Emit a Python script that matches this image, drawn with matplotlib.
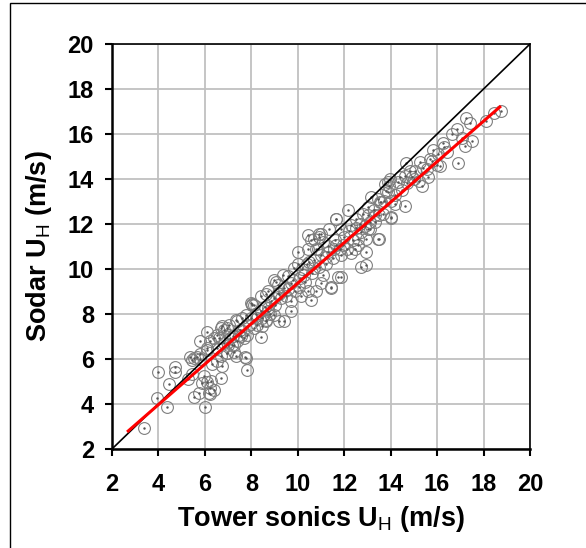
import matplotlib
matplotlib.use('Agg')
import matplotlib.pyplot as plt
from matplotlib.patches import Rectangle
import numpy as np

plt.rcParams['font.family'] = ['Liberation Sans', 'DejaVu Sans']
plt.rcParams['mathtext.fontset'] = 'custom'
plt.rcParams['mathtext.rm'] = 'Liberation Sans'

# tower sonic wind speed vs sodar wind speed (m/s)
tower = [3.36, 4.0, 4.7, 4.7, 4.47, 3.96, 4.39, 5.81, 6.1, 5.38, 5.45, 5.81, 5.64, 6.1,
         5.26, 5.45, 5.95, 5.74, 5.55, 6.0, 6.1, 6.2, 6.17, 5.88, 6.27, 6.24, 6.41, 6.31,
         6.53, 6.68, 6.75, 6.72, 6.6, 6.96, 7.03, 6.96, 7.25, 7.18, 7.32, 7.4, 7.54, 7.71,
         7.83, 7.64, 7.83, 7.9, 8.05, 8.12, 8.41, 8.26, 8.48, 8.65, 8.62, 8.41, 8.7,
         6.1, 5.52, 5.81, 6.24, 6.38, 6.53, 6.68, 6.82, 7.03, 7.4, 7.61, 7.76, 7.97, 8.12,
         8.26, 8.48, 8.62, 8.7, 8.84, 8.98, 9.06, 9.13, 9.2, 6.53, 6.82, 7.1, 7.25, 7.47,
         7.68, 7.76, 6.68, 6.96, 7.32,
         8.41, 8.7, 8.98, 9.13, 9.35, 9.42, 9.71, 10.0, 10.07, 10.28, 10.43, 10.57, 10.5,
         10.71, 10.86, 11.0, 11.08, 11.22, 11.36, 11.44, 11.65, 11.65, 11.73, 8.98, 9.71,
         9.27, 10.14, 10.43, 10.79, 11.0,
         10.43, 10.71, 10.79, 10.93, 11.65, 11.87, 12.16, 12.3, 12.52, 12.8, 13.02, 13.17,
         13.31, 13.53, 13.67, 13.82, 13.92, 14.03, 14.18, 14.32, 13.48, 12.74, 12.6, 11.94,
         12.45, 11.58, 11.87, 11.29, 13.02, 12.95,
         13.74, 13.96, 14.4, 14.68, 14.83, 14.9, 15.26, 15.33, 15.55, 15.69, 15.84, 16.13,
         16.05, 16.27, 16.42, 16.63, 16.85, 16.92, 17.06, 17.2, 17.25, 17.42, 17.5, 15.04,
         14.61, 18.1, 18.43, 18.77, 14.61, 14.03, 15.6,
         8.05, 9.42, 9.71, 9.85, 10.57, 10.93, 11.44, 11.87, 12.3, 12.74, 12.95, 12.95,
         12.6, 13.45, 13.09, 13.31, 13.6, 13.89, 13.89, 13.45, 13.02,
         9.0, 9.2, 9.5, 9.6, 9.8, 9.9, 10.1, 10.2, 10.3, 10.4, 10.6, 10.7, 10.9, 11.0,
         11.2, 11.3, 11.5, 11.6, 11.8, 12.0, 12.1, 12.2, 12.4, 12.5, 12.7, 12.9, 13.1,
         13.3, 13.5, 13.7, 14.0, 14.2, 14.5, 14.7, 15.0, 15.2, 15.4, 15.8, 16.0, 16.3,
         8.0, 8.2, 8.6, 8.8, 7.0, 7.5, 7.2, 11.1, 10.0, 9.6]
sodar = [2.93, 5.43, 5.66, 5.4, 4.88, 4.26, 3.85, 6.82, 7.2, 6.09, 5.94, 6.2, 6.09, 6.47,
         5.1, 5.32, 5.25, 4.51, 4.29, 3.85, 4.96, 4.73, 4.48, 4.93, 5.03, 4.44, 4.61, 5.76,
         5.91, 5.15, 5.69, 7.46, 6.94, 7.38, 7.06, 6.25, 6.32, 6.64, 7.75, 6.8, 7.02, 6.09,
         5.52, 7.23, 7.08, 7.53, 8.44, 7.38, 6.97, 7.82, 7.46, 8.88, 7.75, 8.12, 8.26,
         6.42, 6.06, 5.98, 6.8, 6.94, 7.08, 7.38, 7.3, 7.53, 7.68, 7.82, 7.97, 8.48, 8.38,
         7.53, 7.82, 7.68, 8.12, 8.56, 7.97, 9.44, 8.93, 7.68, 6.5, 6.72, 6.94, 6.64, 7.08,
         6.94, 6.06, 6.13, 6.28, 6.13,
         8.78, 9.0, 9.51, 9.29, 9.73, 9.15, 9.37, 10.77, 9.22, 9.73, 11.5, 11.3, 10.32,
         10.03, 10.91, 11.57, 9.73, 10.54, 11.79, 9.22, 12.23, 11.06, 9.66, 8.7, 8.56,
         8.7, 8.78, 9.0, 9.0, 9.37,
         10.91, 11.35, 10.91, 11.57, 12.2, 11.79, 12.62, 11.95, 12.23, 12.45, 12.75, 13.19,
         12.08, 12.97, 12.45, 13.48, 13.7, 12.3, 13.27, 13.85, 11.35, 11.65, 11.35, 11.06,
         10.91, 10.91, 10.62, 10.77, 11.79, 11.35,
         13.78, 14.0, 14.07, 14.7, 14.36, 14.07, 14.76, 13.7, 14.44, 14.88, 15.29, 14.58,
         15.1, 15.62, 15.18, 15.98, 16.2, 14.7, 15.83, 15.47, 16.72, 16.5, 15.69, 14.36,
         14.15, 16.57, 16.94, 17.04, 12.82, 12.26, 14.1,
         8.41, 7.68, 8.12, 10.03, 8.63, 11.43, 9.15, 9.66, 10.69, 10.1, 10.17, 10.77,
         11.06, 11.35, 11.79, 12.38, 12.97, 13.41, 13.85, 13.12, 12.38,
         8.4, 8.9, 8.8, 9.1, 9.5, 9.0, 9.6, 10.0, 9.4, 10.2, 9.8, 10.4, 10.1, 10.6,
         10.2, 11.0, 10.5, 11.3, 10.9, 11.4, 10.9, 11.7, 11.3, 11.8, 12.0, 11.9, 12.1,
         12.6, 12.4, 13.0, 13.0, 12.9, 13.5, 13.8, 14.0, 13.9, 14.5, 14.8, 14.6, 15.4,
         7.8, 8.0, 8.3, 8.0, 6.6, 7.3, 7.0, 11.2, 10.2, 9.7]

# regression line (estimated from the red line)
fit_slope = 0.90
fit_intercept = 0.37
fit_range = [2.7, 18.7]

ticks = [2, 4, 6, 8, 10, 12, 14, 16, 18, 20]

fig = plt.figure(figsize=(5.86, 5.48), dpi=100)
ax = fig.add_axes([0.1911, 0.1807, 0.7133, 0.739])

ax.plot(tower, sodar, 'o', ms=8.5, mfc='none', mec='#7f7f7f', mew=0.8, zorder=3)
ax.plot(tower, sodar, '.', ms=1.5, color='#555555', zorder=3)

ax.plot([2, 20], [2, 20], color='black', lw=1.2, zorder=4)
fx = np.array(fit_range)
ax.plot(fx, fit_slope * fx + fit_intercept, color='#ff0000', lw=2.2, zorder=5)

ax.set_xlim(2, 20)
ax.set_ylim(2, 20)
ax.set_xticks(ticks)
ax.set_yticks(ticks)
ax.grid(True, color='#c0c0c0', lw=1.3)
ax.set_axisbelow(True)

for s in ['left', 'bottom']:
    ax.spines[s].set_linewidth(1.8)
for s in ['top', 'right']:
    ax.spines[s].set_linewidth(1.2)

ax.tick_params(axis='x', direction='out', length=5, width=1.5, pad=12, labelsize=17)
ax.tick_params(axis='y', direction='out', length=5, width=1.5, pad=8, labelsize=17)
for lab in ax.get_xticklabels() + ax.get_yticklabels():
    lab.set_fontweight('bold')

ax.set_xlabel(r'Tower sonics U$_\mathrm{H}$ (m/s)', fontsize=19.5, fontweight='bold', labelpad=6)
ax.set_ylabel(r'Sodar U$_\mathrm{H}$ (m/s)', fontsize=19.5, fontweight='bold', labelpad=10)

# frame around the picture (left and top edges visible)
fig.patches.append(Rectangle((10 / 586, -0.1), 1.2, 1 - 3 / 548 + 0.1, transform=fig.transFigure,
                             fill=False, edgecolor='black', lw=1.0, clip_on=False))

fig.savefig('out.png', dpi=100)
